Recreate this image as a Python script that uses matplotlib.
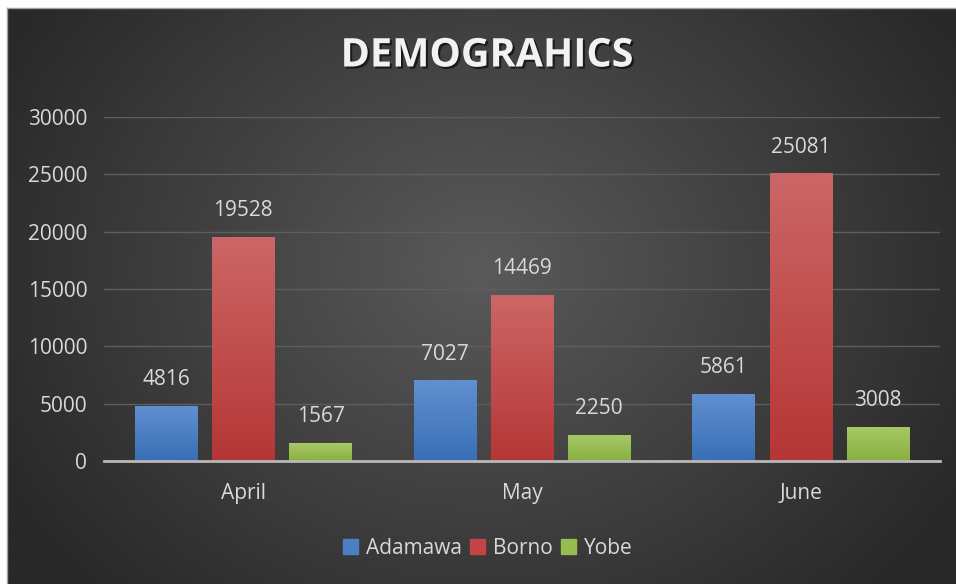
import numpy as np
import matplotlib
matplotlib.use("Agg")
import matplotlib.pyplot as plt
import matplotlib.patheffects as pe
from matplotlib.patches import Rectangle

categories = ["April", "May", "June"]
series_names = ["Adamawa", "Borno", "Yobe"]
adamawa = [4816, 7027, 5861]
borno = [19528, 14469, 25081]
yobe = [1567, 2250, 3008]
yticks = [0, 5000, 10000, 15000, 20000, 25000, 30000]
title = "DEMOGRAHICS"

plt.rcParams['font.family'] = ['Open Sans', 'DejaVu Sans']
W, H = 956, 584
fig = plt.figure(figsize=(W / 100, H / 100), dpi=100)
fig.patch.set_facecolor('white')

# background with radial gradient
bx0, by_top = 7, 8
bg = fig.add_axes([bx0 / W, 0, 1 - bx0 / W, 1 - by_top / H])
bg.set_axis_off()
ny, nx = 300, 500
yy, xx = np.mgrid[0:ny, 0:nx]
cx, cy = nx * 0.5, ny * 0.45
r = np.sqrt(((xx - cx) / (nx * 0.58)) ** 2 + ((yy - cy) / (ny * 0.8)) ** 2)
r = np.clip(r, 0, 1)
c_in = np.array([0x5a, 0x5a, 0x5a]) / 255
c_out = np.array([0x28, 0x28, 0x28]) / 255
img = c_in[None, None, :] * (1 - r[..., None]) + c_out[None, None, :] * r[..., None]
bg.imshow(img, aspect='auto', extent=[0, 1, 0, 1], interpolation='bilinear')
bg.set_xlim(0, 1); bg.set_ylim(0, 1)
fig.add_artist(plt.Line2D([bx0 / W, 1], [1 - by_top / H, 1 - by_top / H], color='#a0a0a0', lw=1, transform=fig.transFigure))
fig.add_artist(plt.Line2D([bx0 / W, bx0 / W], [0, 1 - by_top / H], color='#a0a0a0', lw=1, transform=fig.transFigure))

left, right = 104, 940
bottom_px, top_px = 461, 117
ax = fig.add_axes([left / W, 1 - bottom_px / H, (right - left) / W, (bottom_px - top_px) / H])
ax.patch.set_alpha(0)
ax.set_xlim(-0.5, 2.5)
ax.set_ylim(0, 30000)

x = np.arange(len(categories))
bw = 0.223
off = 0.277
data = [adamawa, borno, yobe]
top_cols = ['#6090d0', '#cc6666', '#a8c868']
bot_cols = ['#3a6eb5', '#b63636', '#88b040']
leg_cols = ['#4a7fc4', '#c44444', '#96bc50']
txt_col = '#d9d9d9'
fs = 15

for i, (vals, ct, cb) in enumerate(zip(data, top_cols, bot_cols)):
    bars = ax.bar(x + (i - 1) * off, vals, bw, color=cb, zorder=3, label=series_names[i])
    for b, v in zip(bars, vals):
        bx, by = b.get_x(), b.get_y()
        bwid, bh = b.get_width(), b.get_height()
        grad = np.linspace(0, 1, 64)[:, None, None]
        cti = np.array(matplotlib.colors.to_rgb(ct))
        cbi = np.array(matplotlib.colors.to_rgb(cb))
        g = cti * (1 - grad) + cbi * grad
        g = np.repeat(g, 2, axis=1)
        im = ax.imshow(g, extent=[bx, bx + bwid, by, by + bh], aspect='auto', zorder=4, interpolation='bilinear')
        im.set_clip_path(b)
        ax.annotate(str(v), (bx + bwid / 2, by + bh), xytext=(0, 15), textcoords='offset points',
                    ha='center', va='baseline', color=txt_col, fontsize=fs, zorder=5)

ax.set_yticks(yticks)
ax.set_yticklabels([str(t) for t in yticks])
ax.set_xticks(x)
ax.set_xticklabels(categories)
ax.tick_params(axis='both', length=0, colors=txt_col, labelsize=fs)
ax.tick_params(axis='y', pad=12)
ax.tick_params(axis='x', pad=15.5)
ax.yaxis.grid(True, color='#5e5e5e', lw=1, zorder=0)
ax.set_axisbelow(True)
for s in ['top', 'right', 'left']:
    ax.spines[s].set_visible(False)
ax.spines['bottom'].set_color('#b8b8b8')
ax.spines['bottom'].set_linewidth(2)
ax.spines['bottom'].set_zorder(6)

fig.text(487 / W, 1 - 56 / H, title, ha='center', va='center', color='#f2f2f2',
         fontsize=28.5, fontweight='bold',
         path_effects=[pe.withSimplePatchShadow(offset=(1.5, -1.5), shadow_rgbFace='black', alpha=0.6)])

handles = [Rectangle((0, 0), 1, 1, color=c) for c in leg_cols]
leg = fig.legend(handles, series_names, loc='center', bbox_to_anchor=(488 / W, 1 - 548.5 / H), ncol=3,
                 frameon=False, fontsize=fs, handlelength=0.7, handleheight=0.7,
                 handletextpad=0.4, columnspacing=0.4, labelcolor=txt_col)

fig.savefig('out.png', dpi=100, facecolor=fig.get_facecolor())
